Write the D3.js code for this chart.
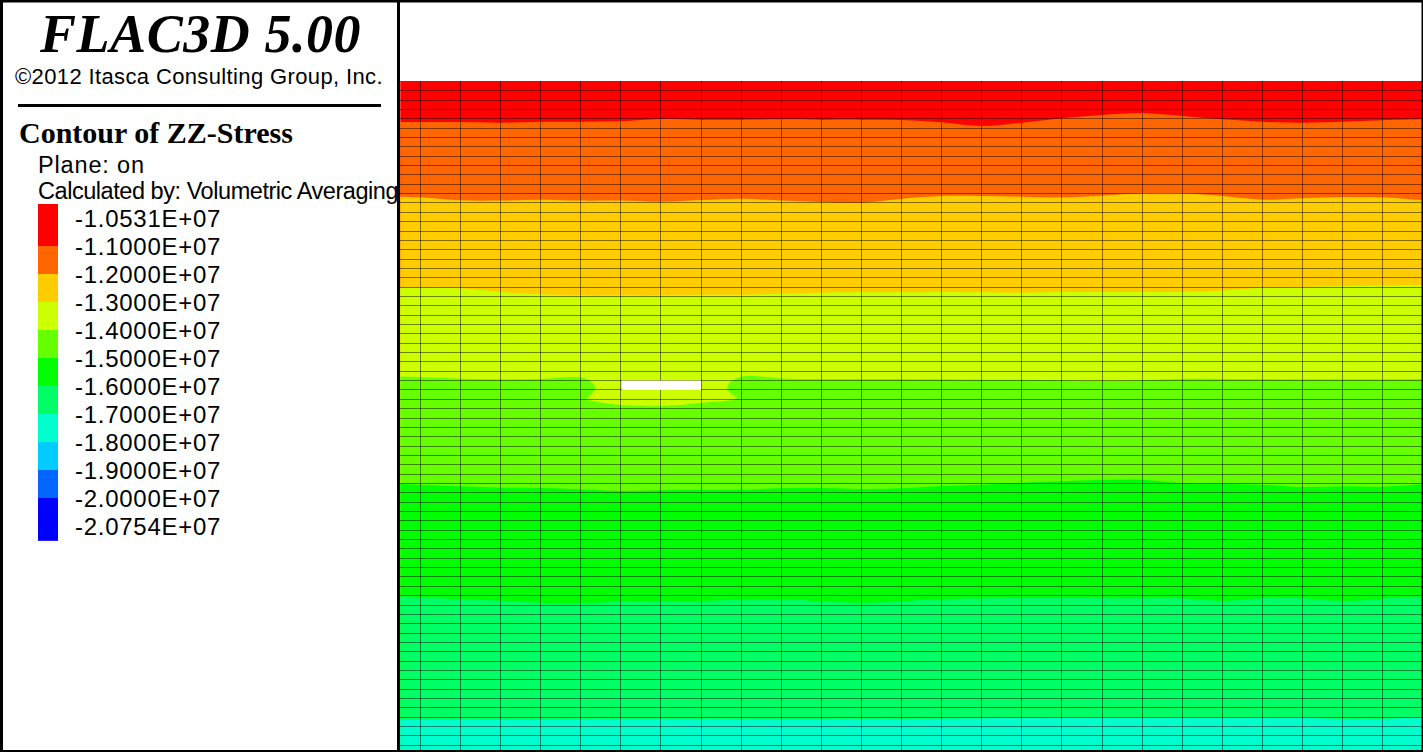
<!DOCTYPE html>
<html><head><meta charset="utf-8">
<style>html,body{margin:0;padding:0;background:#fff;overflow:hidden}svg{display:block}</style>
<script src="https://cdn.jsdelivr.net/npm/d3@7"></script></head><body>
<script>
const legendLabels = ["-1.0531E+07","-1.1000E+07","-1.2000E+07","-1.3000E+07","-1.4000E+07","-1.5000E+07","-1.6000E+07","-1.7000E+07","-1.8000E+07","-1.9000E+07","-2.0000E+07","-2.0754E+07"];
const bandColors = ["#ff0000","#ff6600","#ffcc00","#ccff00","#66ff00","#00ff00","#00ff66","#00ffcc","#00ccff","#0066ff","#0000ff"];
const legendEdges = [-0.5,1,2,3,4,5,6,7,8,9,10,11.53];
const stations = [-0.5,0,1,2,3,4,5,6,7,8,9,10,11,12,13,14,15,16,17,18,19,20,21,22,23,24,25];
const redOrange = [4.34,4.34,4.34,4.41,4.31,4.31,4.27,4.02,4.09,4.09,4.06,4.09,4.09,4.13,4.38,4.77,4.41,3.95,3.59,3.38,3.70,4.06,4.31,4.41,4.31,4.16,4.06];
const orangeYellow = [12.33,12.40,12.72,12.75,12.65,12.75,12.75,12.86,12.68,12.54,12.75,12.90,12.97,12.54,12.26,12.26,12.33,12.40,12.22,11.97,11.97,12.26,12.65,12.50,12.36,12.40,12.72];
const yellowLime = [22.06,22.06,22.13,22.52,22.77,22.88,22.88,22.88,22.81,22.81,22.70,22.59,22.56,22.56,22.52,22.56,22.59,22.52,22.52,22.52,22.52,22.38,22.06,21.99,21.92,21.84,21.77];
const limeGreenCols = [-0.5,0,1,2,3,4,4.24,4.36,4.29,4.16,4.31,5,6,6.98,7.9,7.73,7.66,7.73,8.03,8.48,9,10,11,12,13,14,15,16,17,18,19,20,21,22,23,24,25];
const limeGreenRows = [31.55,31.62,31.80,31.85,31.82,31.66,32.04,32.68,33.32,33.97,34.18,34.61,34.72,34.40,33.86,33.32,32.79,32.15,31.55,31.55,31.78,31.82,31.82,31.82,31.86,31.90,31.90,31.95,32.02,31.95,31.82,31.82,31.82,31.86,31.86,31.86,31.82];
const greenPure = [43.05,43.13,43.30,43.45,43.48,43.62,43.80,43.73,43.70,43.66,43.52,43.48,43.59,43.52,43.27,43.13,42.91,42.77,42.63,42.59,42.95,43.05,43.13,43.38,43.30,43.34,43.09];
const pureSpring = [55.10,55.17,55.39,55.53,55.75,55.78,55.64,55.64,55.60,55.42,55.39,55.60,55.75,55.60,55.35,55.28,55.25,55.25,55.25,55.28,55.28,55.57,55.28,55.28,55.57,55.32,55.10];
const springCyan = [68.30,68.30,68.26,68.30,68.30,68.26,68.20,68.20,68.20,68.26,68.26,68.26,68.20,68.20,68.16,68.10,68.08,68.04,68.00,68.00,68.00,68.00,68.00,68.05,68.20,68.18,68.00];
const meshCols = d3.range(0,26);
const meshRows = d3.range(0,72);
const hole = {c0:5,c1:7,r0:32,r1:33};

const W=1423,H=752;
const x = d3.scaleLinear().domain([0,25]).range([420.3,1422.8]);
const y = d3.scaleLinear().domain([0,71]).range([81.4,745.3]);
const ly = d3.scaleLinear().domain([0,11]).range([218,526]);
const svg = d3.select("body").append("svg").attr("width",W).attr("height",H);
const plot = svg.append("g");
const bottomRow = 72;
plot.append("rect").attr("x",x(-0.5)).attr("y",y(0)).attr("width",x(25.5)-x(-0.5)).attr("height",y(bottomRow)-y(0)).attr("fill",bandColors[0]);
const zip = (cs,rs)=>cs.map((c,i)=>[c,rs[i]]);
const contours = [zip(stations,redOrange),zip(stations,orangeYellow),zip(stations,yellowLime),zip(limeGreenCols,limeGreenRows),zip(stations,greenPure),zip(stations,pureSpring),zip(stations,springCyan)];
const line = d3.line().x(d=>x(d[0])).y(d=>y(d[1])).curve(d3.curveCatmullRom.alpha(0.5));
contours.forEach((pts,i)=>{
  const first=pts[0], last=pts[pts.length-1];
  const tail=`L${x(last[0])},${y(bottomRow)}L${x(first[0])},${y(bottomRow)}Z`;
  plot.append("path").attr("d",line(pts)+tail).attr("fill",bandColors[i+1]);
});
const mesh = plot.append("g").attr("stroke","#000").attr("stroke-opacity",0.48).attr("stroke-width",1).attr("shape-rendering","crispEdges");
mesh.selectAll("line.h").data(meshRows).join("line").attr("class","h").attr("x1",x(-0.5)).attr("x2",x(25.5)).attr("y1",d=>y(d)).attr("y2",d=>y(d));
mesh.selectAll("line.v").data(meshCols).join("line").attr("class","v").attr("x1",d=>x(d)).attr("x2",d=>x(d)).attr("y1",y(0)).attr("y2",y(bottomRow));
plot.append("rect").attr("x",x(hole.c0)+1).attr("y",y(hole.r0)).attr("width",x(hole.c1)-x(hole.c0)-1).attr("height",y(hole.r1)-y(hole.r0)).attr("fill","#fff");

// left panel
const panel = svg.append("g");
panel.append("rect").attr("x",0).attr("y",0).attr("width",397).attr("height",H).attr("fill","#fff");
const txt=(s,xx,yy,fam,size,extra={})=>{const t=panel.append("text").attr("x",xx).attr("y",yy).attr("font-family",fam).attr("font-size",size).attr("fill","#000").text(s);Object.entries(extra).forEach(([k,v])=>t.attr(k,v));return t;};
const serif="'Liberation Serif',serif", sans="'Liberation Sans',sans-serif";
txt("FLAC3D 5.00",40,52,serif,54,{"font-weight":"bold","font-style":"italic","letter-spacing":"0.55px"});
txt("©2012 Itasca Consulting Group, Inc.",15,84,sans,22,{"letter-spacing":"0.37px"});
panel.append("rect").attr("x",18).attr("y",104).attr("width",363).attr("height",3).attr("fill","#000");
txt("Contour of ZZ-Stress",19,143,serif,30,{"font-weight":"bold"});
txt("Plane: on",38,173,sans,23.5,{"letter-spacing":"0.85px"});
txt("Calculated by: Volumetric Averaging",38,199,sans,23.5,{"letter-spacing":"-0.45px"});
panel.selectAll("rect.sw").data(bandColors).join("rect").attr("class","sw").attr("x",38).attr("width",20)
  .attr("y",(d,i)=>ly(legendEdges[i])).attr("height",(d,i)=>ly(legendEdges[i+1])-ly(legendEdges[i])).attr("fill",d=>d);
panel.selectAll("text.lab").data(legendLabels).join("text").attr("class","lab").attr("x",75).attr("y",(d,i)=>ly(i)+9)
  .attr("font-family",sans).attr("font-size",24).attr("letter-spacing","0.73px").attr("fill","#000").text(d=>d);

// frame
const frame=svg.append("g").attr("fill","#000");
[[0,0,W,2.5],[0,0,3,H],[397,0,3,H],[0,750,W,2],[1421.5,0,1.5,H]].forEach(r=>frame.append("rect").attr("x",r[0]).attr("y",r[1]).attr("width",r[2]).attr("height",r[3]));
</script></body></html>
